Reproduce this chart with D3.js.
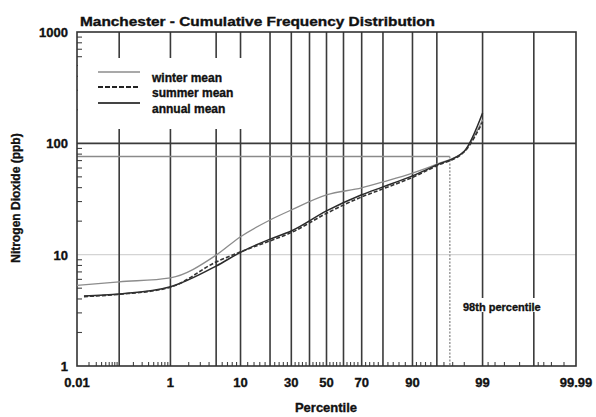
<!DOCTYPE html>
<html>
<head>
<meta charset="utf-8">
<script src="https://cdn.jsdelivr.net/npm/d3@7/dist/d3.min.js"></script>
<style>
  html, body { margin: 0; padding: 0; background: #fff; }
  svg { display: block; }
  text { font-family: "Liberation Sans", Arial, sans-serif; font-weight: bold; fill: #111;
         stroke: #111; stroke-width: 0.35px; }
</style>
</head>
<body>
<svg id="chart" width="596" height="417"></svg>
<script>
// Percentile points (probability scale) and NO2 concentrations (ppb)
const winterPct = [0.01, 0.1, 1, 5, 10, 20, 30, 50, 70, 80, 90, 95, 98, 99];
const winterVal = [5.3, 5.7, 6.2, 9.9, 14.5, 20.5, 25.2, 34.4, 39.8, 45, 54, 65, 85, 163];

const summerPct = [0.015, 0.1, 1, 5, 10, 20, 30, 50, 70, 80, 90, 95, 98, 99];
const summerVal = [4.2, 4.4, 5.1, 8.6, 10.6, 13.3, 15.8, 23.5, 33, 39, 49.5, 63, 84, 155];

const annualPct = [0.015, 0.1, 1, 5, 10, 20, 30, 50, 70, 80, 90, 95, 98, 99];
const annualVal = [4.25, 4.43, 5.15, 7.9, 10.5, 13.8, 16.3, 24.7, 34.5, 40.6, 51, 64, 85, 187];

// 98th percentile reference (percentile position, concentration)
const refPct = [96.7];
const refVal = [76];

// Axis ticks
const gridPct = [0.1, 1, 5, 10, 20, 30, 40, 50, 60, 70, 80, 90, 95, 99, 99.9];
const xTickLabels = ["0.01", "1", "10", "30", "50", "70", "90", "99", "99.99"];
const minorPct = [0.02, 0.03, 0.04, 0.05, 0.06, 0.07, 0.08, 0.09,
  0.2, 0.3, 0.4, 0.5, 0.6, 0.7, 0.8, 0.9, 2, 3, 4, 6, 7, 8, 9,
  12, 14, 16, 18, 22, 24, 26, 28, 32, 34, 36, 38, 42, 44, 46, 48,
  52, 54, 56, 58, 62, 64, 66, 68, 72, 74, 76, 78, 82, 84, 86, 88,
  91, 92, 93, 94, 96, 97, 98, 99.2, 99.4, 99.6, 99.8,
  99.92, 99.94, 99.96, 99.98];
const yTickLabels = ["1", "10", "100", "1000"];

const legendNames = ["winter mean", "summer mean", "annual mean"];

// Inverse standard normal CDF (Acklam's rational approximation)
function probit(p) {
  const a = [-3.969683028665376e+01, 2.209460984245205e+02, -2.759285104469687e+02,
             1.383577518672690e+02, -3.066479806614716e+01, 2.506628277459239e+00];
  const b = [-5.447609879822406e+01, 1.615858368580409e+02, -1.556989798598866e+02,
             6.680131188771972e+01, -1.328068155288572e+01];
  const c = [-7.784894002430293e-03, -3.223964580411365e-01, -2.400758277161838e+00,
             -2.549732539343734e+00, 4.374664141464968e+00, 2.938163982698783e+00];
  const d = [7.784695709041462e-03, 3.224671290700398e-01, 2.445134137142996e+00,
             3.754408661907416e+00];
  const pl = 0.02425;
  let q, r;
  if (p < pl) {
    q = Math.sqrt(-2 * Math.log(p));
    return (((((c[0]*q+c[1])*q+c[2])*q+c[3])*q+c[4])*q+c[5]) /
           ((((d[0]*q+d[1])*q+d[2])*q+d[3])*q+1);
  } else if (p <= 1 - pl) {
    q = p - 0.5; r = q * q;
    return (((((a[0]*r+a[1])*r+a[2])*r+a[3])*r+a[4])*r+a[5])*q /
           (((((b[0]*r+b[1])*r+b[2])*r+b[3])*r+b[4])*r+1);
  } else {
    q = Math.sqrt(-2 * Math.log(1 - p));
    return -(((((c[0]*q+c[1])*q+c[2])*q+c[3])*q+c[4])*q+c[5]) /
            ((((d[0]*q+d[1])*q+d[2])*q+d[3])*q+1);
  }
}

const L = 77, R = 576, T = 32, B = 366;
const svg = d3.select("#chart");

const zScale = d3.scaleLinear()
  .domain([probit(0.0001), probit(0.9999)])
  .range([L, R]);
const x = pct => zScale(probit(pct / 100));
const y = d3.scaleLog().domain([1, 1000]).range([B, T]);

const gridColor = "#3a3a3a";

// light horizontal at 10 ppb
svg.append("line")
  .attr("x1", L).attr("x2", R).attr("y1", y(10)).attr("y2", y(10))
  .attr("stroke", "#d4d4d4").attr("stroke-width", 1.2);

// vertical percentile grid
svg.append("g").selectAll("line").data(gridPct).join("line")
  .attr("x1", d => x(d)).attr("x2", d => x(d))
  .attr("y1", T).attr("y2", B)
  .attr("stroke", gridColor).attr("stroke-width", 1.6);

// 100 ppb line
svg.append("line")
  .attr("x1", L).attr("x2", R).attr("y1", y(100)).attr("y2", y(100))
  .attr("stroke", gridColor).attr("stroke-width", 1.6);

// 98th percentile reference lines
svg.append("line")
  .attr("x1", L).attr("x2", x(refPct[0]))
  .attr("y1", y(refVal[0])).attr("y2", y(refVal[0]))
  .attr("stroke", "#8a8a8a").attr("stroke-width", 1.5);
svg.append("line")
  .attr("x1", x(refPct[0])).attr("x2", x(refPct[0]))
  .attr("y1", y(refVal[0])).attr("y2", B)
  .attr("stroke", "#9a9a9a").attr("stroke-width", 1.5)
  .attr("stroke-dasharray", "2,1.5");

// minor ticks along the bottom
svg.append("g").selectAll("line").data(minorPct).join("line")
  .attr("x1", d => x(d)).attr("x2", d => x(d))
  .attr("y1", B).attr("y2", B - 4)
  .attr("stroke", "#444").attr("stroke-width", 1.1);

// minor log ticks on the left axis
const yMinor = [];
[1, 10, 100].forEach(dec => { for (let k = 2; k <= 9; k++) yMinor.push(dec * k); });
svg.append("g").selectAll("line").data(yMinor).join("line")
  .attr("x1", L).attr("x2", L + 5)
  .attr("y1", d => y(d)).attr("y2", d => y(d))
  .attr("stroke", "#444").attr("stroke-width", 1.1);

// legend background hides grid beneath it
svg.append("rect").attr("x", L + 1).attr("y", 58)
  .attr("width", 178).attr("height", 71).attr("fill", "#fff");

// label background
svg.append("rect").attr("x", 460).attr("y", 298)
  .attr("width", 96).attr("height", 14).attr("fill", "#fff");

// frame
svg.append("rect").attr("x", L).attr("y", T)
  .attr("width", R - L).attr("height", B - T)
  .attr("fill", "none").attr("stroke", "#333").attr("stroke-width", 1.6);

// series
const line = d3.line().x(d => x(d[0])).y(d => y(d[1])).curve(d3.curveMonotoneX);
const series = [
  { pct: winterPct, val: winterVal, stroke: "#8c8c8c", width: 1.3, dash: null },
  { pct: annualPct, val: annualVal, stroke: "#2a2a2a", width: 1.5, dash: null },
  { pct: summerPct, val: summerVal, stroke: "#333", width: 1.6, dash: "4,2" }
];
series.forEach(s => {
  svg.append("path")
    .datum(d3.zip(s.pct, s.val))
    .attr("d", line)
    .attr("fill", "none")
    .attr("stroke", s.stroke)
    .attr("stroke-width", s.width)
    .attr("stroke-dasharray", s.dash);
});

// legend
const legendStyles = [
  { stroke: "#555", width: 1.1, dash: null, ly: 72, ty: 82 },
  { stroke: "#222", width: 2, dash: "5,2", ly: 87, ty: 97 },
  { stroke: "#444", width: 1.8, dash: null, ly: 103, ty: 113 }
];
legendNames.forEach((name, i) => {
  const st = legendStyles[i];
  svg.append("line").attr("x1", 98).attr("x2", 140)
    .attr("y1", st.ly).attr("y2", st.ly)
    .attr("stroke", st.stroke).attr("stroke-width", st.width)
    .attr("stroke-dasharray", st.dash);
  svg.append("text").attr("x", 152).attr("y", st.ty)
    .attr("font-size", 12).text(name);
});

// x tick labels
const xTickPos = xTickLabels.map(s => +s);
svg.append("g").selectAll("text").data(xTickLabels).join("text")
  .attr("x", (d, i) => x(xTickPos[i]))
  .attr("y", 387)
  .attr("text-anchor", "middle")
  .attr("font-size", 13)
  .text(d => d);

// y tick labels
svg.append("g").selectAll("text").data(yTickLabels).join("text")
  .attr("x", 68)
  .attr("y", d => y(+d) + 5)
  .attr("text-anchor", "end")
  .attr("font-size", 13)
  .text(d => d);

// titles
svg.append("text").attr("x", 80).attr("y", 26)
  .attr("font-size", 13)
  .attr("textLength", 355).attr("lengthAdjust", "spacingAndGlyphs")
  .text("Manchester  - Cumulative Frequency Distribution");

svg.append("text").attr("x", 326).attr("y", 412)
  .attr("text-anchor", "middle").attr("font-size", 13)
  .text("Percentile");

svg.append("text")
  .attr("transform", "translate(20,198) rotate(-90)")
  .attr("text-anchor", "middle").attr("font-size", 12)
  .text("Nitrogen Dioxide (ppb)");

svg.append("text").attr("x", 463).attr("y", 311)
  .attr("font-size", 11)
  .text("98th percentile");
</script>
</body>
</html>
